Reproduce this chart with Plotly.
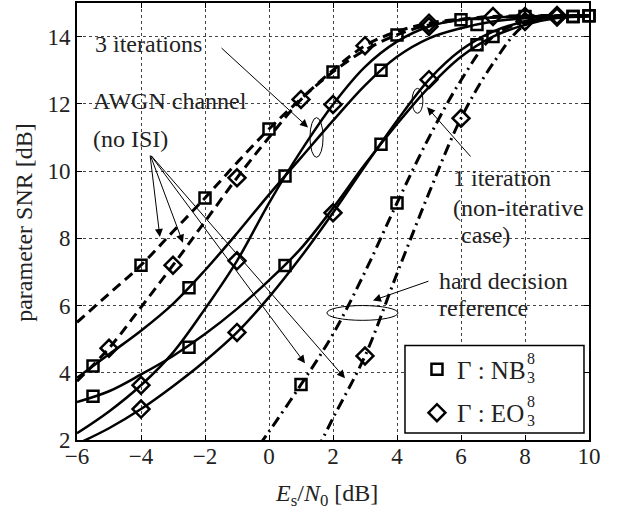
import plotly.graph_objects as go

# ---------------- data ----------------
x_int = [-6, -5, -4, -3, -2, -1, 0, 1, 2, 3, 4, 5, 6, 7, 8, 9, 10]

# AWGN channel (no ISI), dashed
awgn_nb_y = [5.5, 6.35, 7.2, 8.2, 9.2, 10.25, 11.25, 12.15, 12.95, 13.6, 14.05, 14.35, 14.5, 14.57, 14.6, 14.62, 14.62]
awgn_eo_y = [3.75, 4.73, 5.95, 7.2, 8.5, 9.8, 11.0, 12.13, 13.0, 13.73, 14.15, 14.4, 14.52, 14.6, 14.62, 14.63, 14.63]
awgn_nb_mx = [-4, -2, 0, 2, 4, 6, 8, 10]
awgn_nb_my = [7.2, 9.2, 11.25, 12.95, 14.05, 14.5, 14.6, 14.62]
awgn_eo_mx = [-5, -3, -1, 1, 3, 5, 7, 9]
awgn_eo_my = [4.73, 7.2, 9.8, 12.13, 13.73, 14.4, 14.6, 14.63]

# 3 iterations, solid
it3_nb_y = [3.85, 4.55, 5.25, 6.05, 7.05, 8.15, 9.3, 10.4, 11.5, 12.55, 13.4, 13.95, 14.25, 14.45, 14.55, 14.6, 14.62]
it3_eo_y = [2.2, 2.85, 3.63, 4.6, 5.9, 7.33, 9.05, 10.6, 11.98, 13.1, 13.85, 14.3, 14.5, 14.57, 14.6, 14.62, 14.63]
it3_nb_mx = [-5.5, -2.5, 0.5, 3.5, 6.5, 9.5]
it3_nb_my = [4.2, 6.53, 9.85, 13.0, 14.36, 14.6]
it3_eo_mx = [-4, -1, 2, 5, 8]
it3_eo_my = [3.63, 7.33, 11.98, 14.3, 14.6]

# 1 iteration (non-iterative), solid
it1_nb_y = [3.13, 3.45, 3.95, 4.5, 5.15, 5.9, 6.75, 7.7, 8.9, 10.2, 11.4, 12.5, 13.4, 14.0, 14.35, 14.55, 14.6]
it1_eo_y = [1.88, 2.35, 2.92, 3.6, 4.35, 5.2, 6.25, 7.45, 8.76, 10.15, 11.5, 12.72, 13.6, 14.15, 14.45, 14.58, 14.62]
it1_nb_mx = [-5.5, -2.5, 0.5, 3.5, 6.5, 9.5]
it1_nb_my = [3.3, 4.76, 7.19, 10.8, 13.76, 14.6]
it1_eo_mx = [-4, -1, 2, 5, 8]
it1_eo_my = [2.92, 5.2, 8.76, 12.72, 14.45]

# hard decision reference, dash-dot
hard_nb_x = [-0.3, 0, 1, 2, 3, 4, 5, 6, 7, 8, 9, 10]
hard_nb_y = [1.85, 2.25, 3.65, 5.15, 7.0, 9.05, 11.0, 12.7, 14.0, 14.45, 14.58, 14.62]
hard_eo_x = [1.5, 2, 3, 4, 5, 6, 7, 8, 9, 10]
hard_eo_y = [1.7, 2.65, 4.5, 6.95, 9.35, 11.57, 13.2, 14.35, 14.58, 14.62]
hard_nb_mx = [1, 4, 7, 10]
hard_nb_my = [3.65, 9.05, 14.0, 14.62]
hard_eo_mx = [3, 6, 9]
hard_eo_my = [4.5, 11.57, 14.58]

x_ticks = [-6, -4, -2, 0, 2, 4, 6, 8, 10]
y_ticks = [2, 4, 6, 8, 10, 12, 14]

legend_nb = "\u0393 : NB"
legend_eo = "\u0393 : EO"
legend_sup = "8"
legend_sub = "3"

# ---------------- figure ----------------
FONT = "Liberation Serif"
BLACK = "#000000"
TXT = "#222222"
fig = go.Figure()

DASH = "10px,6px"
DASHDOT = "11px,5px,2px,5px"

def add_line(x, y, dash, width=2.5):
    fig.add_trace(go.Scatter(x=x, y=y, mode="lines",
                             line=dict(color=BLACK, width=width, dash=dash, shape="spline", smoothing=1.0),
                             showlegend=False, hoverinfo="skip"))

def add_markers(x, y, symbol, size, name=None, show=False, group=None):
    fig.add_trace(go.Scatter(x=x, y=y, mode="markers", name=name, showlegend=show, legendgroup=group,
                             marker=dict(symbol=symbol, size=size, color=BLACK,
                                         line=dict(color=BLACK, width=2.5)),
                             cliponaxis=False))

add_line(x_int, awgn_nb_y, DASH, 3)
add_line(x_int, awgn_eo_y, DASH, 3)
add_line(x_int, it3_nb_y, "solid")
add_line(x_int, it3_eo_y, "solid")
add_line(x_int, it1_nb_y, "solid")
add_line(x_int, it1_eo_y, "solid")
add_line(hard_nb_x, hard_nb_y, DASHDOT, 3)
add_line(hard_eo_x, hard_eo_y, DASHDOT, 3)

SQ, DI = 11, 13
add_markers(it3_nb_mx, it3_nb_my, "square-open", SQ, legend_nb, True, "a")
add_markers(it3_eo_mx, it3_eo_my, "diamond-open", DI, legend_eo, True, "b")
add_markers(awgn_nb_mx, awgn_nb_my, "square-open", SQ)
add_markers(awgn_eo_mx, awgn_eo_my, "diamond-open", DI)
add_markers(it1_nb_mx, it1_nb_my, "square-open", SQ)
add_markers(it1_eo_mx, it1_eo_my, "diamond-open", DI)
add_markers(hard_nb_mx, hard_nb_my, "square-open", SQ)
add_markers(hard_eo_mx, hard_eo_my, "diamond-open", DI)

axis_common = dict(showline=True, linecolor=BLACK, linewidth=2, mirror="ticks", ticks="inside",
                   ticklen=5, tickwidth=1, tickcolor=BLACK, showgrid=True, gridcolor="#444444",
                   griddash="dot", gridwidth=1, zeroline=False,
                   tickfont=dict(family=FONT, size=23, color=TXT))

fig.update_xaxes(range=[-6, 10], tickvals=x_ticks, ticklabelstandoff=-6, **axis_common)
fig.update_yaxes(range=[2, 15], tickvals=y_ticks, **axis_common)

# axis titles
fig.add_annotation(x=0.488, y=-0.125, xref="paper", yref="paper", showarrow=False,
                   text="<i>E</i><sub>s</sub>/<i>N</i><sub>0</sub> [dB]",
                   font=dict(family=FONT, size=24, color=TXT), xanchor="center", yanchor="middle")
fig.add_annotation(x=-0.1035, y=0.497, xref="paper", yref="paper", showarrow=False,
                   text="parameter SNR [dB]", textangle=-90,
                   font=dict(family=FONT, size=24, color=TXT), xanchor="center", yanchor="middle")

# ellipses
ellipses = [
    (1.28, 10.41, 1.69, 11.59),
    (4.47, 11.72, 4.81, 12.46),
    (1.81, 5.56, 4.03, 6.0),
]
for x0, y0, x1, y1 in ellipses:
    fig.add_shape(type="circle", xref="x", yref="y", x0=x0, y0=y0, x1=x1, y1=y1,
                  line=dict(color=BLACK, width=1))

# legend box (drawn as a shape so its size matches the reference)
fig.add_shape(type="rect", xref="paper", yref="paper", x0=0.6406, x1=0.9902, y0=0.0159, y1=0.2164,
              line=dict(color=BLACK, width=1.5), fillcolor="white", layer="above")

# arrows (head, tail)
arrows = [
    ((1.22, 11.30), (-1.53, 13.70)),
    ((-3.41, 8.04), (-3.72, 10.50)),
    ((-2.69, 7.87), (-3.72, 10.50)),
    ((1.125, 4.28), (-3.72, 10.50)),
    ((2.375, 3.84), (-3.72, 10.50)),
    ((4.94, 11.90), (6.34, 10.39)),
    ((3.25, 6.15), (5.03, 6.74)),
]
for (hx, hy), (tx, ty) in arrows:
    fig.add_annotation(x=hx, y=hy, ax=tx, ay=ty, xref="x", yref="y", axref="x", ayref="y",
                       text="", showarrow=True, arrowhead=2, arrowsize=1.6, arrowwidth=1,
                       arrowcolor=BLACK, standoff=0, startstandoff=0)

texts = [
    ("3 iterations", -5.5, 13.79),
    ("AWGN channel", -5.56, 12.07),
    ("(no ISI)", -5.56, 10.95),
    ("1 iteration", 5.69, 9.79),
    ("(non-iterative", 5.69, 8.9),
    ("case)", 5.94, 8.1),
    ("hard decision", 5.25, 6.74),
    ("reference", 5.25, 5.94),
]
for t, x, y in texts:
    fig.add_annotation(x=x, y=y, xref="x", yref="y", text=t, showarrow=False, xanchor="left",
                       yanchor="middle", font=dict(family=FONT, size=24, color=TXT))

# stacked super/subscripts of the legend labels
LEG_FS = 25
for yc in (0.165, 0.067):
    fig.add_annotation(x=0.876, y=yc, xref="paper", yref="paper", text=legend_sup,
                       showarrow=False, xanchor="left", yanchor="bottom", borderpad=0,
                       font=dict(family=FONT, size=16, color=TXT))
    fig.add_annotation(x=0.876, y=yc, xref="paper", yref="paper", text=legend_sub,
                       showarrow=False, xanchor="left", yanchor="top", borderpad=0,
                       font=dict(family=FONT, size=16, color=TXT))

fig.update_layout(
    width=622, height=512, autosize=False,
    margin=dict(l=77, r=33, t=1, b=72),
    paper_bgcolor="white", plot_bgcolor="white",
    font=dict(family=FONT, size=22, color=TXT),
    legend=dict(x=0.664, y=0.2141, xanchor="left", yanchor="top", bgcolor="rgba(0,0,0,0)",
                borderwidth=0, tracegroupgap=8, indentation=0,
                font=dict(family=FONT, size=LEG_FS, color=TXT)),
)

fig.write_html("out.html", config={"displayModeBar": False},
               post_script="document.body.style.margin='0';")
